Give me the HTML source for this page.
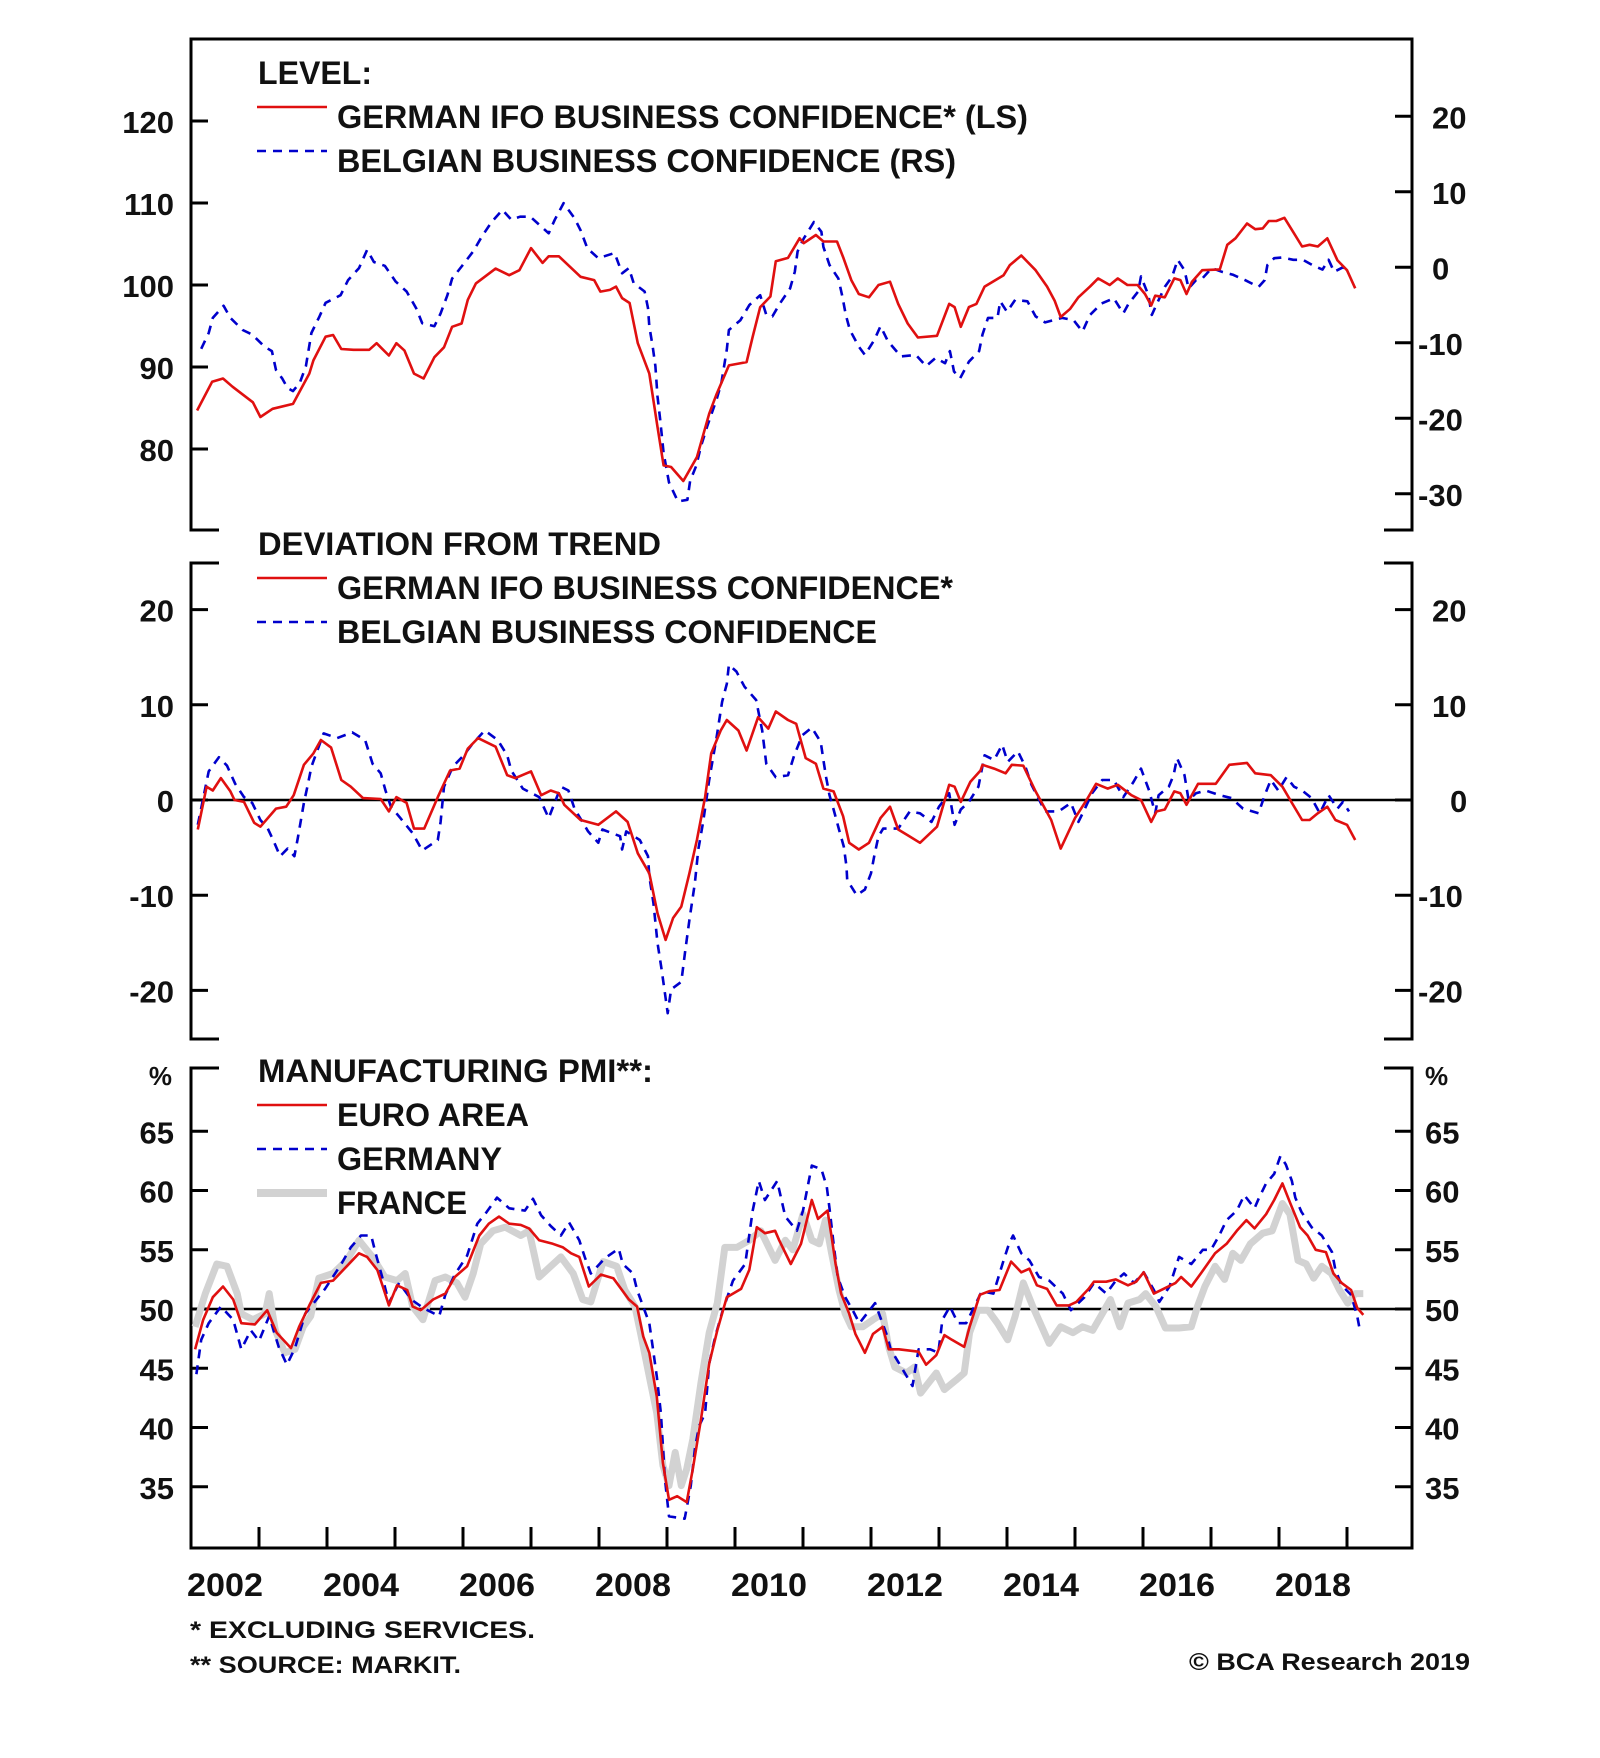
<!DOCTYPE html>
<html><head><meta charset="utf-8"><title>IFO / Belgian confidence / PMI</title>
<style>
html,body{margin:0;padding:0;background:#fff;}
svg{display:block;font-family:"Liberation Sans",Arial,sans-serif;}
</style></head>
<body>
<svg id="chart" width="1600" height="1758" viewBox="0 0 1600 1758" xmlns="http://www.w3.org/2000/svg"></svg>
<script>
// ---------- DATA ----------
const yearTickLabels = ["2002","2004","2006","2008","2010","2012","2014","2016","2018"];
const topLeftTicks = [120,110,100,90,80];
const topRightTicks = [20,10,0,-10,-20,-30];
const midTicks = [20,10,0,-10,-20];
const botTicks = [65,60,55,50,45,40,35];

// Panel 1: German IFO level (LS)
const ifoLevelDates = [2002.09,2002.31,2002.47,2002.61,2002.91,2003.02,2003.20,2003.50,2003.74,2003.80,2003.98,2004.09,2004.21,2004.39,2004.62,2004.73,2004.91,2005.02,2005.14,2005.28,2005.42,2005.58,2005.72,2005.84,2005.98,2006.07,2006.19,2006.48,2006.68,2006.83,2007.0,2007.17,2007.26,2007.41,2007.73,2007.93,2008.02,2008.16,2008.25,2008.34,2008.45,2008.57,2008.74,2008.86,2008.95,2009.06,2009.24,2009.44,2009.62,2009.73,2009.91,2010.17,2010.26,2010.37,2010.52,2010.60,2010.78,2010.95,
2011.01,2011.19,2011.30,2011.50,2011.59,2011.71,2011.82,2011.97,2012.11,2012.28,2012.40,2012.54,2012.69,2012.97,2013.15,2013.23,2013.32,2013.44,2013.55,2013.67,2013.95,2014.04,2014.21,2014.42,2014.59,2014.70,2014.79,2014.93,2015.05,2015.22,2015.34,2015.51,2015.63,2015.77,2015.92,2016.03,2016.12,2016.18,2016.32,2016.46,2016.55,2016.64,2016.72,2016.87,2017.13,2017.24,2017.36,2017.53,2017.65,2017.76,2017.85,2017.96,2018.08,2018.22,2018.34,2018.45,2018.57,2018.71,2018.86,2019.0,2019.12];
const ifoLevelValues = [84.7,88.2,88.6,87.6,85.7,83.9,84.9,85.5,89.2,90.8,93.7,93.9,92.2,92.1,92.1,92.9,91.4,92.9,92.0,89.2,88.6,91.2,92.4,94.9,95.3,98.2,100.2,102.0,101.2,101.8,104.5,102.7,103.5,103.5,101.0,100.6,99.2,99.4,99.8,98.4,97.8,92.9,89.2,82.7,78.0,77.8,76.1,79.0,84.3,86.7,90.2,90.6,93.7,97.3,98.6,102.9,103.3,105.7,
105.1,106.1,105.3,105.3,103.4,100.6,98.9,98.5,100.0,100.4,97.7,95.3,93.6,93.8,97.7,97.3,94.9,97.3,97.7,99.8,101.2,102.4,103.6,101.8,99.8,98.1,96.1,97.1,98.5,99.8,100.8,100.0,100.8,100.0,100.0,98.9,97.5,98.7,98.5,100.8,100.6,98.9,100.4,101.8,101.9,104.9,105.7,107.5,106.8,106.9,107.8,107.8,108.2,106.3,104.7,104.9,104.7,105.7,103.0,101.8,99.6];

// Panel 1: Belgian business confidence level (RS)
const belLevelDates = [2002.15,2002.26,2002.32,2002.48,2002.58,2002.76,2002.90,2003.08,2003.19,2003.25,2003.34,2003.42,2003.50,2003.60,2003.69,2003.77,2003.89,2003.98,2004.20,2004.31,2004.47,2004.59,2004.69,2004.85,2005.01,2005.17,2005.31,2005.40,2005.58,2005.67,2005.77,2005.84,2005.98,2006.15,2006.28,2006.42,2006.58,2006.71,2006.84,2006.99,2007.15,2007.26,2007.35,2007.48,2007.64,2007.73,2007.83,2007.99,2008.23,2008.34,2008.44,2008.51,2008.67,2008.72,2008.74,2008.79,2008.83,2008.86,2008.90,2008.95,2009.03,2009.16,2009.30,2009.34,2009.43,2009.50,2009.59,2009.73,2009.80,2009.88,2009.91,2010.08,2010.21,2010.37,2010.46,2010.55,2010.66,2010.81,2010.88,2010.92,
2011.01,2011.16,2011.27,2011.30,2011.39,2011.52,2011.58,2011.63,2011.69,2011.82,2011.91,2012.05,2012.14,2012.25,2012.44,2012.66,2012.81,2012.95,2013.09,2013.16,2013.22,2013.31,2013.44,2013.59,2013.64,2013.72,2013.86,2013.90,2014.0,2014.12,2014.30,2014.42,2014.56,2014.81,2014.98,2015.11,2015.22,2015.39,2015.57,2015.71,2015.79,2015.93,2015.97,2016.08,2016.13,2016.22,2016.32,2016.43,2016.51,2016.61,2016.67,2016.78,2016.87,2017.01,2017.16,2017.33,2017.50,2017.70,2017.79,2017.83,2017.93,2018.04,2018.21,2018.35,2018.51,2018.64,2018.73,2018.81,2018.94,2019.03];
const belLevelValues = [-10.8,-8.7,-6.7,-5.1,-6.7,-8.3,-8.9,-10.5,-11.1,-13.6,-14.7,-16.0,-16.4,-15.3,-13.1,-8.7,-6.5,-4.7,-3.7,-1.7,-0.1,2.3,0.7,0.2,-1.9,-3.2,-5.4,-7.4,-7.8,-6.1,-3.7,-1.5,0.1,2.1,4.1,6.0,7.6,6.3,6.7,6.7,5.4,4.5,6.3,8.5,6.5,4.9,2.5,1.2,1.9,-0.8,-0.1,-2.1,-3.2,-5.4,-7.8,-10.5,-13.1,-17.1,-20.2,-24.6,-28.5,-31.0,-30.8,-28.3,-26.3,-23.7,-21.1,-17.5,-15.3,-10.9,-8.3,-7.0,-5.0,-3.7,-6.3,-6.5,-4.8,-2.8,-0.6,2.1,
3.8,6.0,4.7,2.7,0.3,-1.5,-3.9,-6.3,-8.3,-10.5,-11.6,-9.6,-7.8,-9.8,-11.8,-11.6,-13.1,-12.0,-12.7,-11.1,-13.8,-14.7,-12.5,-11.1,-8.9,-6.7,-6.7,-4.5,-5.9,-4.3,-4.5,-6.5,-7.3,-6.7,-7.0,-8.5,-6.3,-4.8,-4.1,-6.1,-4.8,-3.2,-1.2,-3.7,-6.3,-4.5,-2.6,-1.2,1.0,-0.4,-2.8,-1.7,-1.5,-0.1,-0.6,-1.0,-1.7,-2.6,-1.7,0.3,1.2,1.3,1.0,1.0,0.2,-0.3,1.0,-0.6,0.0,-0.6];

// Panel 2: deviation from trend
const ifoDevDates = [2002.10,2002.23,2002.32,2002.44,2002.58,2002.64,2002.78,2002.93,2003.02,2003.25,2003.40,2003.51,2003.66,2003.80,2003.91,2004.06,2004.21,2004.35,2004.53,2004.79,2004.91,2005.02,2005.17,2005.28,2005.43,2005.63,2005.81,2005.95,2006.07,2006.22,2006.48,2006.65,2006.77,2007.0,2007.15,2007.29,2007.41,2007.49,2007.73,2007.99,2008.25,2008.42,2008.57,2008.74,2008.86,2008.98,2009.09,2009.21,2009.33,2009.44,2009.56,2009.65,2009.79,2009.88,2010.05,2010.17,2010.34,2010.49,2010.60,2010.78,2010.90,
2011.04,2011.19,2011.30,2011.45,2011.59,2011.68,2011.82,2011.97,2012.14,2012.28,2012.40,2012.54,2012.72,2012.97,2013.15,2013.23,2013.32,2013.46,2013.61,2013.64,2013.81,2013.98,2014.07,2014.24,2014.42,2014.65,2014.79,2015.0,2015.17,2015.31,2015.48,2015.63,2015.83,2015.97,2016.12,2016.20,2016.32,2016.46,2016.55,2016.64,2016.81,2017.07,2017.27,2017.53,2017.65,2017.88,2018.05,2018.19,2018.34,2018.45,2018.57,2018.71,2018.83,2019.0,2019.12];
const ifoDevValues = [-3.1,1.4,1.0,2.3,0.9,0,-0.2,-2.4,-2.8,-0.9,-0.7,0.5,3.7,4.9,6.3,5.5,2.1,1.4,0.2,0.1,-1.2,0.3,-0.3,-3.0,-3.0,0.3,3.1,3.3,5.4,6.5,5.6,2.6,2.3,3.0,0.5,1.0,0.7,-0.5,-2.1,-2.6,-1.2,-2.3,-5.6,-7.7,-11.9,-14.7,-12.4,-11.2,-7.7,-4.2,0.3,4.9,7.3,8.4,7.3,5.2,8.7,7.5,9.3,8.4,8.0,
4.4,3.8,1.2,0.9,-1.7,-4.5,-5.2,-4.5,-1.9,-0.7,-3.1,-3.7,-4.5,-2.8,1.6,1.4,-0.2,1.9,3.1,3.7,3.3,2.8,3.7,3.6,0.9,-2.1,-5.1,-1.9,0,1.7,1.2,1.6,0.5,0,-2.3,-1.2,-1.0,0.9,0.7,-0.5,1.7,1.7,3.7,3.9,2.8,2.6,1.4,-0.3,-2.1,-2.1,-1.4,-0.7,-2.1,-2.6,-4.2];

const belDevDates = [2002.10,2002.26,2002.41,2002.53,2002.65,2002.78,2002.90,2003.02,2003.13,2003.22,2003.31,2003.42,2003.52,2003.57,2003.66,2003.72,2003.77,2003.95,2004.15,2004.37,2004.56,2004.67,2004.79,2004.86,2004.94,2005.08,2005.26,2005.40,2005.63,2005.67,2005.72,2005.85,2006.01,2006.14,2006.32,2006.51,2006.65,2006.71,2006.88,2007.12,2007.26,2007.44,2007.55,2007.64,2007.84,2007.99,2008.05,2008.31,2008.34,2008.40,2008.60,2008.72,2008.74,2008.80,2008.86,2008.92,2008.98,2009.01,2009.06,2009.21,2009.27,2009.33,2009.41,2009.46,2009.53,2009.62,2009.73,2009.81,2009.88,2009.91,2010.02,2010.14,2010.31,2010.40,2010.46,2010.60,2010.78,2010.87,2010.99,
2011.13,2011.26,2011.30,2011.34,2011.39,2011.45,2011.53,2011.60,2011.64,2011.65,2011.79,2011.91,2012.0,2012.05,2012.11,2012.18,2012.40,2012.57,2012.72,2012.89,2013.0,2013.15,2013.23,2013.32,2013.44,2013.58,2013.67,2013.81,2013.93,2014.01,2014.16,2014.27,2014.36,2014.56,2014.76,2014.94,2015.05,2015.14,2015.25,2015.40,2015.57,2015.71,2015.86,2015.97,2016.09,2016.18,2016.23,2016.38,2016.45,2016.50,2016.61,2016.67,2016.78,2016.92,2017.13,2017.30,2017.47,2017.70,2017.79,2017.88,2017.99,2018.11,2018.22,2018.34,2018.48,2018.60,2018.73,2018.86,2018.94,2019.03];
const belDevValues = [-2.6,3.0,4.5,3.6,1.7,0.3,-0.3,-2.1,-3.0,-4.4,-5.9,-5.1,-5.9,-4.0,-0.3,1.7,3.5,7.0,6.5,7.1,6.3,3.8,2.8,1.0,-0.7,-1.9,-3.5,-5.3,-4.2,-2.3,1.4,3.5,4.7,5.9,7.3,6.3,4.7,3.1,1.2,0.3,-1.9,1.4,1.0,-0.9,-3.3,-4.5,-3.1,-3.8,-5.2,-3.3,-4.2,-5.9,-8.0,-10.8,-15.0,-17.8,-20.8,-22.4,-19.9,-19.1,-15.7,-12.6,-8.7,-5.2,-2.4,2.1,6.6,10.3,12.2,14.2,13.5,11.9,10.5,7.3,3.8,2.4,2.6,4.7,6.8,
7.6,6.1,4.2,2.4,0.5,-1.0,-3.1,-4.9,-7.0,-8.4,-10.0,-9.4,-7.7,-5.8,-3.8,-3.0,-3.0,-1.2,-1.4,-2.3,-0.7,0.7,-2.6,-1.0,-0.2,1.4,4.7,4.2,5.8,4.0,5.1,3.5,1.6,-1.2,-1.2,-0.3,-2.3,-1.0,0.7,2.1,2.1,0.3,1.9,3.3,1.0,-1.4,0.5,1.4,2.6,4.4,2.6,0,0.7,1.0,0.5,0.2,-0.9,-1.4,0.5,2.1,1.0,2.4,1.4,1.0,0.2,-1.4,0.5,-0.9,-0.2,-1.2];

// Panel 3: Manufacturing PMI
const euroDates = [2002.06,2002.18,2002.32,2002.47,2002.62,2002.74,2002.94,2003.12,2003.26,2003.47,2003.59,2003.74,2003.91,2004.09,2004.29,2004.47,2004.59,2004.74,2004.82,2004.91,2005.03,2005.18,2005.26,2005.38,2005.56,2005.74,2005.88,2006.06,2006.24,2006.38,2006.53,2006.68,2006.85,2006.97,2007.12,2007.32,2007.47,2007.59,2007.71,2007.85,2008.03,2008.21,2008.44,2008.56,2008.65,2008.74,2008.85,2008.94,2009.03,2009.15,2009.29,2009.38,2009.50,2009.62,2009.74,2009.88,2010.09,2010.21,2010.32,2010.44,2010.59,2010.65,2010.82,2010.97,
2011.13,2011.22,2011.36,2011.42,2011.48,2011.56,2011.68,2011.77,2011.91,2012.03,2012.17,2012.26,2012.41,2012.70,2012.81,2012.96,2013.08,2013.19,2013.37,2013.45,2013.60,2013.74,2013.89,2014.06,2014.21,2014.33,2014.44,2014.59,2014.73,2014.91,2015.02,2015.20,2015.28,2015.46,2015.60,2015.78,2015.90,2016.01,2016.16,2016.30,2016.48,2016.56,2016.71,2016.85,2017.06,2017.23,2017.38,2017.52,2017.64,2017.81,2017.93,2018.05,2018.16,2018.31,2018.42,2018.54,2018.69,2018.80,2018.92,2019.06,2019.15,2019.24];
const euroValues = [46.6,49.1,51.0,51.9,50.8,48.8,48.7,49.9,48.0,46.7,48.5,50.3,52.2,52.4,53.6,54.7,54.4,53.3,51.9,50.3,52.0,51.6,50.2,49.9,50.8,51.3,52.7,53.6,56.2,57.2,57.8,57.2,57.1,56.8,55.8,55.5,55.2,54.7,54.4,51.9,52.9,52.6,50.8,50.2,47.7,46.3,42.6,37.0,33.9,34.2,33.7,36.5,40.7,45.4,48.2,51.0,51.7,53.3,56.9,56.4,56.6,55.8,53.8,55.5,
59.2,57.6,58.3,56.1,53.8,51.3,49.6,47.9,46.3,47.9,48.5,46.6,46.6,46.4,45.3,46.1,47.8,47.4,46.8,48.5,51.2,51.5,51.6,54.0,53.1,53.4,52.0,51.7,50.3,50.3,50.6,51.7,52.3,52.3,52.5,52.0,52.3,53.1,51.3,51.7,52.2,52.7,51.9,53.0,54.7,55.5,56.6,57.5,56.8,58.0,59.2,60.6,59.0,56.9,56.2,55.0,54.8,53.0,52.2,51.6,50.1,49.5];

const germanyDates = [2002.08,2002.15,2002.26,2002.44,2002.62,2002.74,2002.88,2003.0,2003.15,2003.29,2003.41,2003.53,2003.68,2003.97,2004.21,2004.35,2004.50,2004.65,2004.71,2004.85,2004.91,2005.06,2005.24,2005.41,2005.65,2005.74,2005.88,2006.06,2006.21,2006.35,2006.50,2006.68,2006.91,2007.03,2007.15,2007.29,2007.44,2007.56,2007.71,2007.79,2007.88,2008.09,2008.29,2008.35,2008.50,2008.56,2008.65,2008.74,2008.79,2008.85,2008.91,2008.97,2009.03,2009.26,2009.35,2009.41,2009.47,2009.56,2009.62,2009.71,2009.82,2009.97,2010.15,2010.26,2010.35,2010.44,2010.62,2010.74,2010.91,2011.0,
2011.13,2011.27,2011.35,2011.39,2011.45,2011.51,2011.62,2011.74,2011.83,2012.06,2012.24,2012.29,2012.61,2012.70,2012.87,2012.99,2013.05,2013.16,2013.28,2013.40,2013.63,2013.80,2013.95,2014.03,2014.09,2014.21,2014.33,2014.47,2014.62,2014.82,2014.94,2015.14,2015.28,2015.46,2015.60,2015.72,2015.87,2016.01,2016.16,2016.24,2016.39,2016.53,2016.71,2016.88,2017.0,2017.12,2017.23,2017.38,2017.49,2017.64,2017.70,2017.81,2017.93,2018.02,2018.10,2018.19,2018.24,2018.33,2018.48,2018.63,2018.78,2018.83,2018.92,2019.06,2019.15,2019.19];
const germanyValues = [44.5,47.4,48.8,50.2,49.1,46.6,48.2,47.3,49.4,46.8,45.3,46.7,49.6,51.7,53.8,55.2,56.2,56.2,54.8,51.9,50.5,52.2,50.8,50.1,49.4,51.2,52.9,54.5,57.2,58.2,59.4,58.5,58.3,59.3,57.9,57.0,56.2,57.3,55.8,54.4,53.0,54.3,55.1,53.8,53.0,51.6,50.2,48.8,46.8,44.3,41.2,35.6,32.5,32.3,35.1,38.2,40.1,41.2,45.4,47.7,49.9,52.4,53.8,58.3,60.8,59.2,60.8,57.8,56.6,58.3,
62.1,61.8,60.3,58.5,55.5,52.7,51.0,49.8,48.8,50.5,47.7,46.6,43.5,46.6,46.6,46.3,49.1,50.2,48.8,48.8,51.5,51.3,54.1,55.5,56.2,54.7,54.1,52.7,52.4,51.3,49.9,51.0,52.2,51.3,52.4,53.0,52.2,53.1,51.6,50.6,51.9,54.4,53.8,55.0,55.0,56.2,57.5,58.3,59.6,58.5,59.3,60.6,61.4,62.9,62.2,60.8,59.4,58.2,56.9,56.2,54.8,53.3,52.0,51.2,49.4,48.2];

const franceDates = [2002.06,2002.21,2002.38,2002.53,2002.68,2002.74,2002.91,2003.09,2003.15,2003.24,2003.38,2003.53,2003.65,2003.76,2003.88,2004.09,2004.29,2004.47,2004.68,2004.85,2005.03,2005.15,2005.26,2005.41,2005.59,2005.74,2005.91,2006.03,2006.15,2006.26,2006.44,2006.62,2006.85,2006.97,2007.12,2007.29,2007.44,2007.62,2007.76,2007.88,2008.06,2008.26,2008.38,2008.53,2008.62,2008.74,2008.85,2008.94,2009.03,2009.12,2009.21,2009.29,2009.38,2009.50,2009.62,2009.74,2009.85,2010.03,2010.21,2010.38,2010.59,2010.74,2010.85,2011.0,
2011.13,2011.24,2011.33,2011.42,2011.53,2011.62,2011.71,2011.88,2012.03,2012.17,2012.26,2012.35,2012.52,2012.64,2012.73,2012.81,2012.96,2013.08,2013.25,2013.37,2013.45,2013.57,2013.72,2013.86,2014.01,2014.12,2014.24,2014.38,2014.62,2014.79,2014.97,2015.11,2015.26,2015.40,2015.52,2015.66,2015.78,2015.95,2016.04,2016.19,2016.33,2016.53,2016.71,2016.80,2016.91,2017.06,2017.20,2017.32,2017.44,2017.58,2017.76,2017.90,2018.05,2018.16,2018.28,2018.40,2018.51,2018.63,2018.77,2018.89,2019.01,2019.12,2019.24];
const franceValues = [48.5,51.3,53.8,53.6,51.3,49.6,49.1,49.6,51.3,48.2,46.3,46.6,48.5,49.4,52.6,53.0,54.1,55.8,54.3,52.7,52.4,53.0,50.2,49.1,52.4,52.7,52.2,51.0,53.0,55.5,56.6,56.9,56.2,56.6,52.7,53.6,54.4,53.0,50.8,50.6,54.0,53.6,51.6,50.2,47.7,44.3,41.2,36.8,35.1,37.9,35.1,36.5,39.0,43.8,48.0,50.5,55.2,55.2,55.8,56.6,54.1,55.8,55.0,58.0,
55.8,55.5,57.5,54.7,51.6,49.6,48.5,48.5,49.1,49.6,46.8,45.1,44.6,45.1,42.9,43.5,44.6,43.2,44.0,44.6,48.0,49.9,49.9,48.8,47.4,49.4,52.2,50.2,47.1,48.5,48.0,48.5,48.2,49.6,50.8,48.5,50.5,50.8,51.3,50.2,48.4,48.4,48.5,50.2,51.9,53.6,52.5,54.7,54.1,55.5,56.4,56.6,58.9,58.0,54.1,53.8,52.6,53.6,53.0,51.6,50.5,51.3,51.3];

// ---------- SCALES ----------
const X0 = 191, X1 = 1412, PX_PER_YEAR = 68, START_YEAR = 2002;
function xScale(yr){ return X0 + (yr - START_YEAR) * PX_PER_YEAR; }
function yTopL(v){ return 285 - (v - 100) * 8.2; }
function yTopR(v){ return 267.3 - v * 7.55; }
function yMid(v){ return 800 - v * 9.52; }
function yBot(v){ return 1309 - (v - 50) * 11.85; }

// ---------- DRAW ----------
const NS = "http://www.w3.org/2000/svg";
const svg = document.getElementById("chart");
function mk(tag, attrs, parent){
  const el = document.createElementNS(NS, tag);
  for (const k in attrs) el.setAttribute(k, attrs[k]);
  (parent || svg).appendChild(el);
  return el;
}
function txt(str, x, y, size, anchor, len, parent){
  const t = mk("text", {x:x, y:y, "font-size":size, "font-weight":"bold", fill:"#111", "text-anchor":anchor||"start"}, parent);
  if (len){ t.setAttribute("textLength", len); t.setAttribute("lengthAdjust","spacingAndGlyphs"); }
  t.textContent = str;
  return t;
}
function line(x1,y1,x2,y2,w,parent){
  return mk("line",{x1:x1,y1:y1,x2:x2,y2:y2,stroke:"#000","stroke-width":w||3}, parent);
}
function series(dates, vals, yf, style, name){
  const pts = dates.map((d,i)=> xScale(d).toFixed(1)+","+yf(vals[i]).toFixed(1)).join(" ");
  const p = mk("polyline", Object.assign({points:pts, fill:"none", "stroke-linejoin":"round"}, style));
  
  
  return p;
}
const RED = {stroke:"#e01010","stroke-width":2.6};
const BLUE = {stroke:"#0000cc","stroke-width":2.6,"stroke-dasharray":"9 7"};
const GRAY = {stroke:"#d2d2d2","stroke-width":7};

// ===== Panel 1 frame =====
const f1 = mk("g",{});


line(X0-1.5,39,X1+1.5,39,3,f1);
line(X0,39,X0,531,3,f1); line(X1,39,X1,531,3,f1);
line(X0-1.5,530,X0+28,530,3,f1); line(X1-28,530,X1+1.5,530,3,f1);
topLeftTicks.forEach(v=>{ const y=yTopL(v); line(X0,y,X0+17,y,3,f1); });
topRightTicks.forEach(v=>{ const y=yTopR(v); line(X1-17,y,X1,y,3,f1); });
const tl1 = mk("g",{});


topLeftTicks.forEach(v=> txt(String(v),174,yTopL(v)+12,31,"end",null,tl1));
const tr1 = mk("g",{});


topRightTicks.forEach(v=> txt(String(v),v<0?1418:1432,yTopR(v)+12,31,"start",null,tr1));

// ===== Panel 2 frame =====
const f2 = mk("g",{});


line(X0,563,X0,1039,3,f2); line(X1,563,X1,1039,3,f2);
line(X0-1.5,563,X0+28,563,3,f2); line(X1-28,563,X1+1.5,563,3,f2);
line(X0-1.5,1039,X0+28,1039,3,f2); line(X1-28,1039,X1+1.5,1039,3,f2);
midTicks.forEach(v=>{ const y=yMid(v); line(X0,y,X0+17,y,3,f2); line(X1-17,y,X1,y,3,f2); });
line(X0,yMid(0),X1,yMid(0),2.5,f2);
const tl2 = mk("g",{});


midTicks.forEach(v=> txt(String(v),174,yMid(v)+12,31,"end",null,tl2));
const tr2 = mk("g",{});


midTicks.forEach(v=> txt(String(v),v<0?1418:(v===0?1450:1432),yMid(v)+12,31,"start",null,tr2));

// ===== Panel 3 frame =====
const f3 = mk("g",{});


line(X0,1068,X0,1549.5,3,f3); line(X1,1068,X1,1549.5,3,f3);
line(X0-1.5,1068,X0+28,1068,3,f3); line(X1-28,1068,X1+1.5,1068,3,f3);
line(X0-1.5,1548,X1+1.5,1548,3,f3);
botTicks.forEach(v=>{ const y=yBot(v); line(X0,y,X0+17,y,3,f3); line(X1-17,y,X1,y,3,f3); });
line(X0,yBot(50),X1,yBot(50),2.5,f3);
for (let yr=2003; yr<=2019; yr++){ const x=xScale(yr); line(x,1548,x,1527,3,f3); }
const tl3 = mk("g",{});


botTicks.forEach(v=> txt(String(v),174,yBot(v)+12,31,"end",null,tl3));
txt("%",172,1085,26,"end",null,tl3);
const tr3 = mk("g",{});


botTicks.forEach(v=> txt(String(v),1425,yBot(v)+12,31,"start",null,tr3));
txt("%",1425,1085,26,"start",null,tr3);

// x-axis year labels
const xl = mk("g",{});


yearTickLabels.forEach(s=>{ const yr=+s; txt(s, xScale(yr+0.5), 1596, 32, "middle", 76, xl); });

// ===== Series =====
series(belLevelDates, belLevelValues, yTopR, BLUE, "belgian-confidence-level-line");
series(ifoLevelDates, ifoLevelValues, yTopL, RED, "german-ifo-level-line");
series(belDevDates, belDevValues, yMid, BLUE, "belgian-confidence-deviation-line");
series(ifoDevDates, ifoDevValues, yMid, RED, "german-ifo-deviation-line");
series(franceDates, franceValues, yBot, GRAY, "france-pmi-line");
series(germanyDates, germanyValues, yBot, BLUE, "germany-pmi-line");
series(euroDates, euroValues, yBot, RED, "euro-area-pmi-line");

// ===== Legends =====
function legend(title, tlen, titleY, entries, name){
  const g = mk("g",{});
  
  
  txt(title, 258, titleY, 32, "start", tlen, g);
  entries.forEach((e,i)=>{
    const by = titleY + 44*(i+1);
    mk("line", Object.assign({x1:257,y1:by-21,x2:327,y2:by-21}, e.style, e.style===GRAY?{"stroke-width":8}:{}), g);
    txt(e.label, 337, by, 32, "start", e.len, g);
  });
}
legend("LEVEL:",114,84,[
  {label:"GERMAN IFO BUSINESS CONFIDENCE* (LS)",len:691,style:RED},
  {label:"BELGIAN BUSINESS CONFIDENCE (RS)",len:619,style:BLUE}],"level-legend");
legend("DEVIATION FROM TREND",403,555,[
  {label:"GERMAN IFO BUSINESS CONFIDENCE*",len:616,style:RED},
  {label:"BELGIAN BUSINESS CONFIDENCE",len:540,style:BLUE}],"deviation-legend");
legend("MANUFACTURING PMI**:",395,1082,[
  {label:"EURO AREA",len:192,style:RED},
  {label:"GERMANY",len:165,style:BLUE},
  {label:"FRANCE",len:130,style:GRAY}],"pmi-legend");

// ===== Footnotes =====
const fn = mk("g",{});


txt("*  EXCLUDING SERVICES.",190,1638,24,"start",345,fn);
txt("** SOURCE: MARKIT.",190,1673,24,"start",271,fn);
const src = txt("© BCA Research 2019",1189,1670,24,"start",281);


</script>
</body></html>
